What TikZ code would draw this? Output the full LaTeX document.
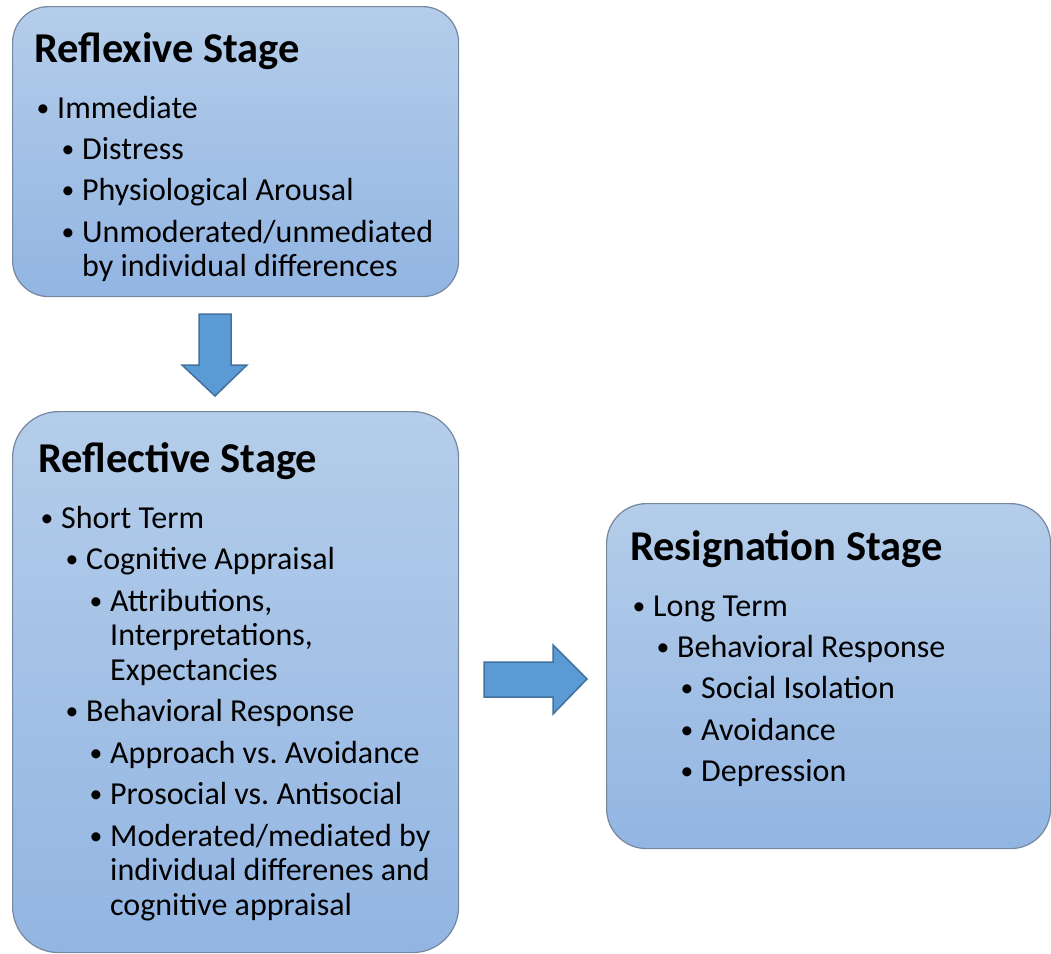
\documentclass[tikz,border=0pt]{standalone}
\usepackage{fontspec}
\setmainfont{Carlito}
\frenchspacing
\definecolor{boxtop}{HTML}{B4CDEA}
\definecolor{boxbot}{HTML}{92B5E2}
\definecolor{boxline}{HTML}{7687A0}
\definecolor{arrfill}{HTML}{5B9BD5}
\definecolor{arrline}{HTML}{41719C}
\newcommand\bul{\makebox[20pt][l]{\hspace*{-0.5pt}\raisebox{2pt}{\scalebox{0.8}{\textbullet}}}}
\begin{document}
\begin{tikzpicture}[x=1pt,y=-1pt,
  stagebox/.style={draw=boxline, line width=1.2pt, top color=boxtop, bottom color=boxbot,
    anchor=north west, inner sep=0pt},
  title/.style={anchor=base west, inner sep=0pt, font=\fontsize{42.5}{50}\selectfont\bfseries},
  itm/.style={anchor=base west, inner sep=0pt, font=\fontsize{32}{38}\selectfont}]
\tikzset{blockarrow/.style={fill=arrfill, draw=arrline, line width=1.5pt, line join=miter}}
\useasboundingbox (0,0) rectangle (1051,953);
% boxes
\node[stagebox, rounded corners=36pt, minimum width=446pt, minimum height=290pt] (reflexive) at (12,6) {};
\node[stagebox, rounded corners=46pt, minimum width=446pt, minimum height=541pt] (reflective) at (12,411) {};
\node[stagebox, rounded corners=40pt, minimum width=444pt, minimum height=345pt] (resignation) at (606,503) {};
% Reflexive
\node[title] (t1) at (34,62) {Reflexive Stage};
\node[itm] (a1) at (37,118) {\bul Immediate};
\node[itm] (a2) at (62,159) {\bul Distress};
\node[itm] (a3) at (62,200) {\bul Physiological Arousal};
\node[itm] (a4) at (62,242) {\bul Unmoderated/unmediated};
\node[itm] (a4b) at (82,276) {by individual differences};
% Reflective
\node[title] (t2) at (38,472) {Reflective Stage};
\node[itm] (b1) at (41,528) {\bul Short Term};
\node[itm] (b2) at (66,569) {\bul Cognitive Appraisal};
\node[itm] (b3) at (90,611) {\bul Attributions,};
\node[itm] (b3b) at (110,645) {Interpretations,};
\node[itm] (b3c) at (110,680) {Expectancies};
\node[itm] (b4) at (66,721) {\bul Behavioral Response};
\node[itm] (b5) at (90,763) {\bul Approach vs. Avoidance};
\node[itm] (b6) at (90,804) {\bul Prosocial vs. Antisocial};
\node[itm] (b7) at (90,846) {\bul Moderated/mediated by};
\node[itm] (b7b) at (110,880) {individual differenes and};
\node[itm] (b7c) at (110,915) {cognitive appraisal};
% Resignation
\node[title] (t3) at (630,560) {Resignation Stage};
\node[itm] (c1) at (633,616) {\bul Long Term};
\node[itm] (c2) at (657,657) {\bul Behavioral Response};
\node[itm] (c3) at (681,698) {\bul Social Isolation};
\node[itm] (c4) at (681,740) {\bul Avoidance};
\node[itm] (c5) at (681,781) {\bul Depression};
% arrows
\draw[blockarrow] (199,314) -- (231,314) -- (231,365) -- (247,365) -- (215,396) -- (182,365) -- (199,365) -- cycle;
\draw[blockarrow] (484,662) -- (553,662) -- (553,645) -- (587,679) -- (553,714) -- (553,697) -- (484,697) -- cycle;
\end{tikzpicture}
\end{document}
